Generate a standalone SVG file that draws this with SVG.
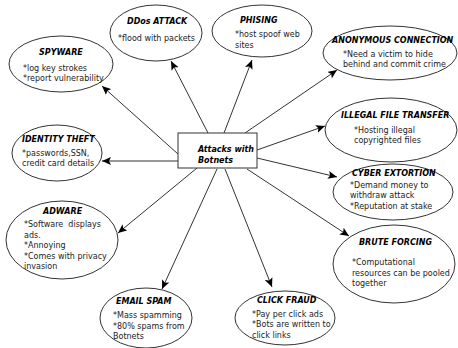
<svg xmlns="http://www.w3.org/2000/svg" width="458" height="348" viewBox="0 0 458 348">
  <style>
    .node ellipse, .node rect { fill: #ffffff; stroke: #333333; stroke-width: 1; }
    .title { font-family: "DejaVu Sans", sans-serif; font-size: 8px; font-weight: bold; font-style: italic; fill: #000000; }
    .body { font-family: "DejaVu Sans", sans-serif; font-size: 8px; fill: #222222; white-space: pre; }
    .edges line { stroke: #333333; stroke-width: 1; marker-end: url(#arrow); }
  </style>
  <defs>
    <marker id="arrow" markerUnits="userSpaceOnUse" markerWidth="10" markerHeight="8" refX="9" refY="4" orient="auto">
      <path d="M0,0 L9,4 L0,8 L2,4 Z" fill="#000000"/>
    </marker>
  </defs>
  <rect width="458" height="348" fill="#ffffff"/>

  <!-- connectors from the central box -->
  <g id="edges" class="edges">
    <line x1="178" y1="154" x2="102" y2="86"/>
    <line x1="178" y1="161" x2="102" y2="161"/>
    <line x1="197" y1="168" x2="118" y2="233"/>
    <line x1="217" y1="169" x2="162" y2="289"/>
    <line x1="225" y1="169" x2="272" y2="287"/>
    <line x1="247" y1="169" x2="349" y2="236"/>
    <line x1="257" y1="158" x2="337" y2="177"/>
    <line x1="257" y1="150" x2="325" y2="126"/>
    <line x1="245" y1="133" x2="337" y2="70"/>
    <line x1="224" y1="133" x2="252" y2="60"/>
    <line x1="208" y1="133" x2="171" y2="61"/>
  </g>

  <g id="center" class="node">
    <rect x="178" y="133" width="79" height="35"/>
    <text class="title" x="198" y="152">Attacks with</text>
    <text class="title" x="198" y="163">Botnets</text>
  </g>

  <g id="ddos" class="node">
    <ellipse cx="156" cy="33" rx="46" ry="28"/>
    <text class="title" x="127" y="24">DDos ATTACK</text>
    <text class="body" x="118" y="41">*flood with packets</text>
  </g>

  <g id="spyware" class="node">
    <ellipse cx="61" cy="64" rx="52" ry="28"/>
    <text class="title" x="39" y="55">SPYWARE</text>
    <text class="body" x="23" y="71">*log key strokes</text>
    <text class="body" x="23" y="81">*report vulnerability</text>
  </g>

  <g id="phising" class="node">
    <ellipse cx="262" cy="31" rx="50" ry="26"/>
    <text class="title" x="240" y="23">PHISING</text>
    <text class="body" x="235" y="37">*host spoof web</text>
    <text class="body" x="235" y="48">sites</text>
  </g>

  <g id="anonymous" class="node">
    <ellipse cx="390" cy="53" rx="67" ry="27"/>
    <text class="title" x="332" y="43">ANONYMOUS CONNECTION</text>
    <text class="body" x="343" y="57">*Need a victim to hide</text>
    <text class="body" x="343" y="67">behind and commit crime</text>
  </g>

  <g id="identity" class="node">
    <ellipse cx="57" cy="153" rx="45" ry="28"/>
    <text class="title" x="22" y="142">IDENTITY THEFT</text>
    <text class="body" x="22" y="156">*passwords,SSN,</text>
    <text class="body" x="22" y="166">credit card details</text>
  </g>

  <g id="illegal" class="node">
    <ellipse cx="391" cy="130" rx="66" ry="32"/>
    <text class="title" x="341" y="118">ILLEGAL FILE TRANSFER</text>
    <text class="body" x="354" y="133">*Hosting illegal</text>
    <text class="body" x="354" y="143">copyrighted files</text>
  </g>

  <g id="cyber" class="node">
    <ellipse cx="393" cy="192" rx="60" ry="28"/>
    <text class="title" x="352" y="176">CYBER EXTORTION</text>
    <text class="body" x="350" y="188">*Demand money to</text>
    <text class="body" x="350" y="198">withdraw attack</text>
    <text class="body" x="350" y="209">*Reputation at stake</text>
  </g>

  <g id="adware" class="node">
    <ellipse cx="62" cy="240" rx="56" ry="39"/>
    <text class="title" x="43" y="214">ADWARE</text>
    <text class="body" x="24" y="227">*Software  displays</text>
    <text class="body" x="24" y="238">ads.</text>
    <text class="body" x="24" y="248">*Annoying</text>
    <text class="body" x="24" y="259">*Comes with privacy</text>
    <text class="body" x="24" y="269">invasion</text>
  </g>

  <g id="brute" class="node">
    <ellipse cx="394" cy="264" rx="61" ry="39"/>
    <text class="title" x="359" y="245">BRUTE FORCING</text>
    <text class="body" x="352" y="265">*Computational</text>
    <text class="body" x="352" y="276">resources can be pooled</text>
    <text class="body" x="352" y="286">together</text>
  </g>

  <g id="email" class="node">
    <ellipse cx="146" cy="318" rx="46" ry="30"/>
    <text class="title" x="116" y="304">EMAIL SPAM</text>
    <text class="body" x="113" y="318">*Mass spamming</text>
    <text class="body" x="113" y="329">*80% spams from</text>
    <text class="body" x="113" y="339">Botnets</text>
  </g>

  <g id="click" class="node">
    <ellipse cx="285" cy="318" rx="50" ry="27"/>
    <text class="title" x="257" y="303">CLICK FRAUD</text>
    <text class="body" x="252" y="317">*Pay per click ads</text>
    <text class="body" x="252" y="327">*Bots are written to</text>
    <text class="body" x="252" y="338">click links</text>
  </g>
</svg>
